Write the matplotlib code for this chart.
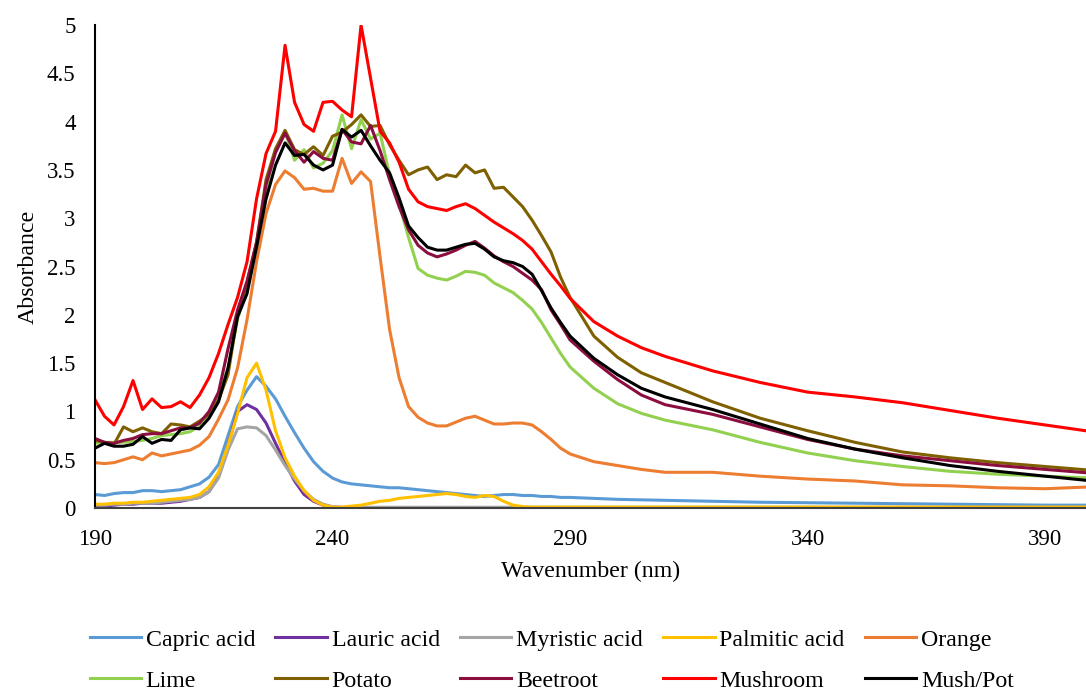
import matplotlib
matplotlib.use("Agg")
import matplotlib.pyplot as plt

plt.rcParams["font.family"] = ["Liberation Serif", "DejaVu Serif"]

wavelength = [
    190, 192, 194, 196, 198, 200, 202, 204, 206, 208,
    210, 212, 214, 216, 218, 220, 222, 224, 226, 228,
    230, 232, 234, 236, 238, 240, 242, 244, 246, 248,
    250, 252, 254, 256, 258, 260, 262, 264, 266, 268,
    270, 272, 274, 276, 278, 280, 282, 284, 286, 288,
    290, 295, 300, 305, 310, 320, 330, 340, 350, 360,
    370, 380, 390, 400,
]

capric = [
    0.14, 0.13, 0.15, 0.16, 0.16, 0.18, 0.18, 0.17, 0.18, 0.19,
    0.22, 0.25, 0.32, 0.45, 0.75, 1.05, 1.22, 1.36, 1.26, 1.13,
    0.95, 0.78, 0.62, 0.48, 0.38, 0.31, 0.27, 0.25, 0.24, 0.23,
    0.22, 0.21, 0.21, 0.20, 0.19, 0.18, 0.17, 0.16, 0.15, 0.14,
    0.13, 0.12, 0.13, 0.14, 0.14, 0.13, 0.13, 0.12, 0.12, 0.11,
    0.11, 0.10, 0.09, 0.085, 0.08, 0.07, 0.06, 0.055, 0.05, 0.045,
    0.04, 0.035, 0.03, 0.03,
]

lauric = [
    0.02, 0.02, 0.03, 0.04, 0.04, 0.05, 0.05, 0.05, 0.06, 0.07,
    0.09, 0.11, 0.17, 0.33, 0.65, 1.00, 1.07, 1.02, 0.88, 0.67,
    0.47, 0.28, 0.14, 0.07, 0.03, 0.01, 0.005, 0.005, 0.005, 0.005,
    0.005, 0.005, 0.005, 0.005, 0.005, 0.005, 0.005, 0.005, 0.005, 0.005,
    0.005, 0.005, 0.005, 0.005, 0.005, 0.005, 0.005, 0.005, 0.005, 0.005,
    0.005, 0.005, 0.005, 0.005, 0.005, 0.005, 0.005, 0.005, 0.005, 0.005,
    0.005, 0.005, 0.005, 0.005,
]

myristic = [
    0.03, 0.03, 0.04, 0.04, 0.05, 0.05, 0.05, 0.06, 0.07, 0.08,
    0.09, 0.11, 0.17, 0.31, 0.60, 0.82, 0.84, 0.83, 0.75, 0.60,
    0.44, 0.30, 0.18, 0.09, 0.04, 0.015, 0.008, 0.008, 0.008, 0.008,
    0.008, 0.008, 0.008, 0.008, 0.008, 0.008, 0.008, 0.008, 0.008, 0.008,
    0.008, 0.008, 0.008, 0.008, 0.008, 0.008, 0.008, 0.008, 0.008, 0.008,
    0.008, 0.008, 0.008, 0.008, 0.008, 0.008, 0.008, 0.008, 0.008, 0.008,
    0.008, 0.008, 0.008, 0.008,
]

palmitic = [
    0.04, 0.04, 0.05, 0.05, 0.06, 0.06, 0.07, 0.08, 0.09, 0.10,
    0.11, 0.14, 0.22, 0.37, 0.65, 0.98, 1.35, 1.50, 1.22, 0.80,
    0.52, 0.33, 0.18, 0.08, 0.03, 0.01, 0.01, 0.02, 0.03, 0.05,
    0.07, 0.08, 0.10, 0.11, 0.12, 0.13, 0.14, 0.15, 0.14, 0.12,
    0.11, 0.13, 0.12, 0.07, 0.03, 0.015, 0.01, 0.01, 0.01, 0.01,
    0.01, 0.01, 0.01, 0.01, 0.01, 0.01, 0.01, 0.01, 0.01, 0.01,
    0.01, 0.01, 0.01, 0.01,
]

orange = [
    0.47, 0.46, 0.47, 0.50, 0.53, 0.50, 0.57, 0.54, 0.56, 0.58,
    0.60, 0.65, 0.74, 0.92, 1.12, 1.45, 1.95, 2.55, 3.05, 3.35,
    3.49, 3.42, 3.30, 3.31, 3.28, 3.28, 3.62, 3.36, 3.48, 3.38,
    2.60, 1.85, 1.35, 1.05, 0.94, 0.88, 0.85, 0.85, 0.89, 0.93,
    0.95, 0.91, 0.87, 0.87, 0.88, 0.88, 0.86, 0.79, 0.71, 0.62,
    0.56, 0.48, 0.44, 0.40, 0.37, 0.37, 0.33, 0.30, 0.28, 0.24,
    0.23, 0.21, 0.20, 0.22,
]

lime = [
    0.67, 0.68, 0.68, 0.68, 0.69, 0.70, 0.72, 0.75, 0.76, 0.77,
    0.79, 0.85, 0.98, 1.18, 1.45, 1.95, 2.30, 2.70, 3.30, 3.70,
    3.90, 3.60, 3.71, 3.52, 3.57, 3.70, 4.07, 3.72, 4.02, 3.82,
    3.88, 3.45, 3.15, 2.80, 2.48, 2.41, 2.38, 2.36, 2.40, 2.45,
    2.44, 2.41, 2.33, 2.28, 2.23, 2.15, 2.06, 1.92, 1.76, 1.60,
    1.46, 1.24, 1.08, 0.98, 0.91, 0.81, 0.68, 0.57, 0.49, 0.43,
    0.38, 0.35, 0.33, 0.31,
]

potato = [
    0.70, 0.68, 0.66, 0.84, 0.79, 0.83, 0.79, 0.77, 0.87, 0.86,
    0.84, 0.90, 0.97, 1.12, 1.38, 2.00, 2.33, 2.75, 3.40, 3.72,
    3.91, 3.71, 3.66, 3.74, 3.65, 3.85, 3.89, 3.97, 4.07, 3.95,
    3.96, 3.76, 3.60, 3.45, 3.50, 3.53, 3.40, 3.45, 3.43, 3.55,
    3.47, 3.50, 3.31, 3.32, 3.22, 3.12, 2.98, 2.82, 2.65, 2.39,
    2.18, 1.78, 1.56, 1.40, 1.30, 1.10, 0.93, 0.80, 0.68, 0.58,
    0.52, 0.47, 0.43, 0.39,
]

beetroot = [
    0.72, 0.68, 0.67, 0.70, 0.72, 0.76, 0.77, 0.77, 0.80, 0.83,
    0.83, 0.88, 1.00, 1.20, 1.65, 2.05, 2.35, 2.75, 3.35, 3.68,
    3.88, 3.70, 3.58, 3.69, 3.62, 3.60, 3.92, 3.79, 3.77, 3.96,
    3.70, 3.40, 3.12, 2.88, 2.72, 2.64, 2.60, 2.63, 2.67, 2.72,
    2.76, 2.69, 2.61, 2.55, 2.50, 2.43, 2.36, 2.26, 2.05, 1.90,
    1.74, 1.52, 1.33, 1.17, 1.07, 0.97, 0.84, 0.71, 0.61, 0.54,
    0.49, 0.44, 0.40, 0.36,
]

mushroom = [
    1.12, 0.95, 0.86, 1.05, 1.32, 1.02, 1.13, 1.04, 1.05, 1.10,
    1.04, 1.17, 1.35, 1.60, 1.90, 2.18, 2.55, 3.20, 3.67, 3.90,
    4.79, 4.20, 3.97, 3.90, 4.20, 4.21, 4.12, 4.05, 5.00, 4.45,
    3.90, 3.78, 3.58, 3.30, 3.17, 3.12, 3.10, 3.08, 3.12, 3.15,
    3.10, 3.03, 2.96, 2.90, 2.84, 2.77, 2.68, 2.55, 2.42, 2.30,
    2.17, 1.93, 1.78, 1.66, 1.57, 1.42, 1.30, 1.20, 1.15, 1.09,
    1.01, 0.93, 0.86, 0.79,
]

mush_pot = [
    0.62, 0.67, 0.64, 0.64, 0.66, 0.74, 0.67, 0.71, 0.70, 0.81,
    0.83, 0.82, 0.93, 1.10, 1.45, 1.98, 2.22, 2.70, 3.20, 3.55,
    3.78, 3.65, 3.66, 3.55, 3.50, 3.55, 3.92, 3.84, 3.91, 3.75,
    3.60, 3.47, 3.21, 2.92, 2.80, 2.70, 2.67, 2.67, 2.70, 2.73,
    2.74, 2.68, 2.60, 2.56, 2.54, 2.50, 2.42, 2.25, 2.07, 1.92,
    1.78, 1.55, 1.38, 1.24, 1.15, 1.02, 0.87, 0.72, 0.61, 0.52,
    0.44, 0.38, 0.33, 0.28,
]

series = [
    ("Capric acid", capric, "#5B9BD5"),
    ("Lauric acid", lauric, "#7030A0"),
    ("Myristic acid", myristic, "#A5A5A5"),
    ("Palmitic acid", palmitic, "#FFC000"),
    ("Orange", orange, "#ED7D31"),
    ("Lime", lime, "#92D050"),
    ("Potato", potato, "#7F6000"),
    ("Beetroot", beetroot, "#8C0D3F"),
    ("Mushroom", mushroom, "#FF0000"),
    ("Mush/Pot", mush_pot, "#000000"),
]

fig = plt.figure(figsize=(10.86, 6.95), dpi=100)
ax = fig.add_axes([0.0875, 0.269, 0.9125, 0.695])

handles = []
for name, values, color in series:
    (line,) = ax.plot(wavelength, values, color=color, lw=2.2, label=name,
                      solid_joinstyle="round")
    handles.append(line)

ax.set_xlim(190, 398.6)
ax.set_ylim(0, 5)
ax.set_xticks([190, 240, 290, 340, 390])
ax.set_yticks([0, 0.5, 1, 1.5, 2, 2.5, 3, 3.5, 4, 4.5, 5])
ax.set_yticklabels(["0", "0.5", "1", "1.5", "2", "2.5", "3", "3.5", "4", "4.5", "5"])
ax.tick_params(length=0, labelsize=16.5)
ax.tick_params(axis="x", pad=15)
ax.tick_params(axis="y", pad=14)

for side in ("top", "right"):
    ax.spines[side].set_visible(False)
ax.spines["left"].set_color("black")
ax.spines["left"].set_linewidth(1.5)
ax.spines["bottom"].set_color("#404040")
ax.spines["bottom"].set_linewidth(1.5)

ax.set_xlabel("Wavenumber (nm)", fontsize=17.2, labelpad=8)
ax.set_ylabel("Absorbance", fontsize=17.2, labelpad=6)

# matplotlib fills legend columns first, so reorder to get Excel's row layout
order = [0, 5, 1, 6, 2, 7, 3, 8, 4, 9]
fig.legend(
    [handles[i] for i in order],
    [series[i][0] for i in order],
    ncol=5,
    loc="center",
    bbox_to_anchor=(0.508, 0.05),
    frameon=False,
    fontsize=17.2,
    handlelength=2.15,
    handletextpad=0.2,
    columnspacing=0.85,
    labelspacing=0.8,
)

fig.savefig("out.png", dpi=100)
